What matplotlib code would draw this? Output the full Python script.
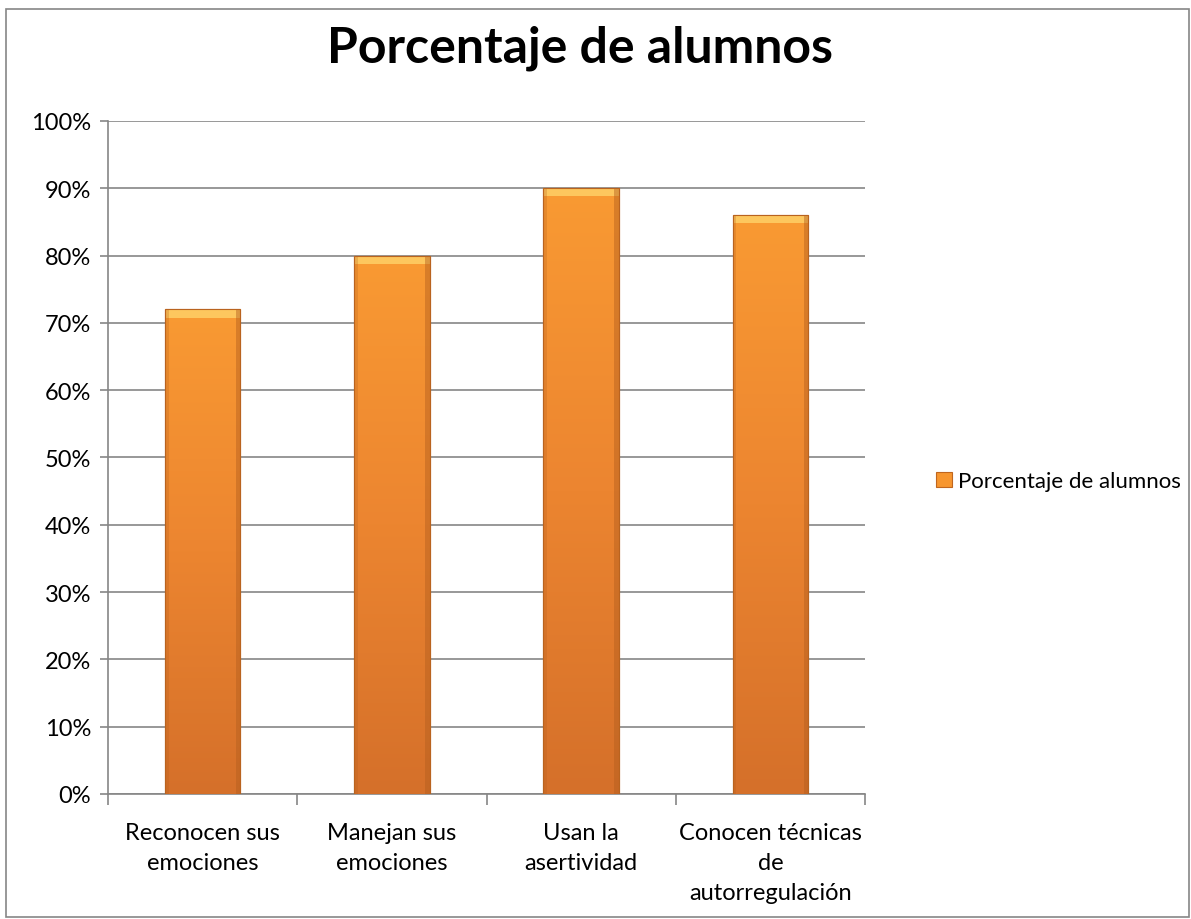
import matplotlib
matplotlib.use("Agg")
import matplotlib.pyplot as plt
import numpy as np
from matplotlib.colors import LinearSegmentedColormap
from matplotlib.patches import Rectangle

categories = ["Reconocen sus\nemociones", "Manejan sus\nemociones", "Usan la\nasertividad",
              "Conocen técnicas\nde\nautorregulación"]
values = [0.72, 0.80, 0.90, 0.86]
series_name = "Porcentaje de alumnos"
title = "Porcentaje de alumnos"
yticks = [i / 10 for i in range(11)]
ytick_labels = [f"{i*10}%" for i in range(11)]

plt.rcParams['font.family'] = ['Lato', 'DejaVu Sans']

fig = plt.figure(figsize=(11.91, 9.2), dpi=100)
ax = fig.add_axes([0.0907, 0.1359, 0.6356, 0.7315])

x = np.arange(len(categories))
bars = ax.bar(x, values, width=0.4, color="#F7962F", edgecolor="#C0661E", linewidth=0.8,
              label=series_name, zorder=3)

cmap = LinearSegmentedColormap.from_list("o", ["#D5702A", "#EC8530", "#F99A33"])
grad = np.linspace(0, 1, 256).reshape(-1, 1)
for b in bars:
    x0, y0 = b.get_x(), b.get_y()
    w, h = b.get_width(), b.get_height()
    im = ax.imshow(grad, cmap=cmap, origin="lower", aspect="auto",
                   extent=[x0, x0 + w, y0, y0 + h], zorder=3.5)
    im.set_clip_path(b)
    ax.add_patch(Rectangle((x0, y0 + h - 0.012), w, 0.012, facecolor="#FFD36A",
                           edgecolor="none", alpha=0.8, zorder=4))
    ax.add_patch(Rectangle((x0 + w * 0.94, y0), w * 0.06, h, facecolor="#B35E1E",
                           edgecolor="none", alpha=0.45, zorder=4))
    ax.add_patch(Rectangle((x0, y0), w * 0.05, h, facecolor="#B35E1E",
                           edgecolor="none", alpha=0.25, zorder=4))
    ax.add_patch(Rectangle((x0, y0), w, h, facecolor="none", edgecolor="#B9631F",
                           linewidth=0.8, zorder=4.5))

ax.set_xlim(-0.5, len(categories) - 0.5)
ax.set_ylim(0, 1.0)
ax.set_yticks(yticks)
ax.set_yticklabels(ytick_labels, fontsize=17)
ax.set_xticks(x)
ax.set_xticklabels(categories, fontsize=17, linespacing=1.55)
ax.tick_params(axis="x", length=0, pad=20)
ax.set_xticks(np.arange(-0.5, len(categories)), minor=True)
ax.tick_params(axis="x", which="minor", length=8, color="#868686", width=1.2)
ax.tick_params(axis="y", length=6, color="#868686", width=1.2, pad=6)

ax.grid(axis="y", color="#868686", linewidth=1.2, zorder=0)
ax.set_axisbelow(True)
for s in ["top", "right"]:
    ax.spines[s].set_visible(False)
for s in ["left", "bottom"]:
    ax.spines[s].set_color("#868686")
    ax.spines[s].set_linewidth(1.2)

fig.text(0.487, 0.948, title, fontsize=36, fontweight="bold", ha="center", va="center")

leg = fig.legend(handles=[bars], labels=[series_name], loc="center left",
                 bbox_to_anchor=(0.786, 0.476), frameon=False, fontsize=16,
                 handlelength=0.7, handleheight=0.7, handletextpad=0.3,
                 borderpad=0, borderaxespad=0)

fig.add_artist(Rectangle((0.005, 0.002), 0.993, 0.987, transform=fig.transFigure,
                         facecolor="none", edgecolor="#868686", linewidth=1.2))

fig.savefig("out.png", dpi=100)
